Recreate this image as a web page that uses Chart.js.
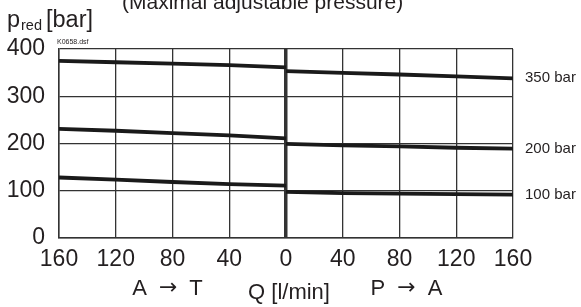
<html>
<head>
	<script src="https://cdn.jsdelivr.net/npm/chart.js@4/dist/chart.umd.min.js"></script>
	<style>
		body { margin: 0; background: #fff; }
	</style>
</head>
<body>
	<div style="width: 581px; height: 307px">
		<canvas id="myChart"></canvas>
	</div>
</body>
<script>

// flow Q [l/min], A->T side is drawn as negative so it sits left of zero
const flowAT = [-160, -120, -80, -40, 0];
const flowPA = [0, 40, 80, 120, 160];

// p_red [bar]
const p350AT = [375, 372, 369, 366, 361];
const p350PA = [353, 349.5, 346, 342, 338];
const p200AT = [231, 227, 222, 217, 211];
const p200PA = [199, 196, 194, 191, 189];
const p100AT = [128, 123.5, 118.5, 114, 111];
const p100PA = [97.5, 95, 94, 93, 92];

const curveNames = ['350 bar', '200 bar', '100 bar'];
const xTickValues = [-160, -120, -80, -40, 0, 40, 80, 120, 160];
const yTickValues = [0, 100, 200, 300, 400];

const FONT = "'Liberation Sans', Arial, sans-serif";
const ARROW_FONT = "'DejaVu Sans', sans-serif";
const INK = '#231f20';

function pts(xs, ys) {
  return xs.map((x, i) => ({ x: x, y: ys[i] }));
}

function curve(xs, ys, name) {
  return {
    label: name,
    data: pts(xs, ys),
    borderColor: '#1a1a1a',
    borderWidth: 3.8,
    pointRadius: 0,
    tension: 0,
    fill: false
  };
}

const data = {
  datasets: [
    curve(flowAT, p350AT, curveNames[0]),
    curve(flowPA, p350PA, curveNames[0]),
    curve(flowAT, p200AT, curveNames[1]),
    curve(flowPA, p200PA, curveNames[1]),
    curve(flowAT, p100AT, curveNames[2]),
    curve(flowPA, p100PA, curveNames[2])
  ]
};

// "A -> T" style caption, arrow in a font that has a proper glyph
function arrowCaption(c, from, to, cx, y) {
  c.font = '22px ' + FONT;
  const wa = c.measureText(from).width;
  const wb = c.measureText(to).width;
  c.font = '22px ' + ARROW_FONT;
  const wr = c.measureText('\u2192').width;
  const gap = 12;
  let x = cx - (wa + wb + wr + 2 * gap) / 2;
  c.textAlign = 'left';
  c.font = '22px ' + FONT;
  c.fillText(from, x, y);
  x += wa + gap;
  c.font = '22px ' + ARROW_FONT;
  c.fillText('\u2192', x, y - 1);
  x += wr + gap;
  c.font = '22px ' + FONT;
  c.fillText(to, x, y);
}

// texts around the plot: axis captions, curve names, file tag
const textPlugin = {
  id: 'texts',
  afterDraw(chart) {
    const c = chart.ctx;
    const xs = chart.scales.x;
    const ys = chart.scales.y;
    c.save();
    c.fillStyle = INK;
    c.textBaseline = 'alphabetic';
    c.textAlign = 'left';

    c.font = '23.5px ' + FONT;
    c.fillText('p', 7, 27);
    c.font = '14.5px ' + FONT;
    c.fillText('red', 21, 30);
    c.font = '23.5px ' + FONT;
    c.fillText('[bar]', 46, 27);

    c.font = '21px ' + FONT;
    c.fillText('(Maximal adjustable pressure)', 122, 9);

    c.font = '7px ' + FONT;
    c.fillText('K0658.dsf', 57, 44);

    // curve names at the right end of each P->A curve
    c.font = '15px ' + FONT;
    c.textBaseline = 'middle';
    const ends = [p350PA, p200PA, p100PA];
    ends.forEach((arr, i) => {
      c.fillText(curveNames[i], chart.chartArea.right + 12, ys.getPixelForValue(arr[arr.length - 1]));
    });

    // x axis captions
    c.textBaseline = 'alphabetic';
    arrowCaption(c, 'A', 'T', xs.getPixelForValue(-80) - 5, 295);
    c.textAlign = 'center';
    c.font = '22px ' + FONT;
    c.fillText('Q [l/min]', xs.getPixelForValue(0) + 3, 299);
    arrowCaption(c, 'P', 'A', xs.getPixelForValue(80) + 7, 295);
    c.restore();
  }
};

const config = {
  type: 'line',
  data: data,
  options: {
    maintainAspectRatio: false,
    responsive: true,
    animation: false,
    layout: {
      padding: { top: 49, right: 68, bottom: 37, left: 0 }
    },
    plugins: {
      legend: { display: false },
      tooltip: { enabled: false }
    },
    scales: {
      x: {
        type: 'linear',
        min: -160,
        max: 160,
        afterBuildTicks: s => { s.ticks = xTickValues.map(v => ({ value: v })); },
        afterFit: s => { s.height = 32; },
        ticks: {
          callback: v => Math.abs(v),
          font: { family: FONT, size: 23 },
          color: INK,
          padding: 8,
          maxRotation: 0,
          autoSkip: false
        },
        grid: {
          color: '#333',
          lineWidth: c => (c.tick && c.tick.value === 0 ? 3.5 : 1.3),
          drawTicks: false
        },
        border: { display: true, color: '#333', width: 1.5 }
      },
      y: {
        min: 0,
        max: 400,
        afterBuildTicks: s => { s.ticks = yTickValues.map(v => ({ value: v })); },
        afterFit: s => { s.width = 59; },
        ticks: {
          font: { family: FONT, size: 23 },
          color: INK,
          padding: 14
        },
        grid: {
          color: '#333',
          lineWidth: 1.3,
          drawTicks: false
        },
        border: { display: true, color: '#333', width: 1.5 }
      }
    }
  },
  plugins: [textPlugin]
};

var ctx = document.getElementById('myChart');
var myChart = new Chart(ctx, config);

</script>
</html>
